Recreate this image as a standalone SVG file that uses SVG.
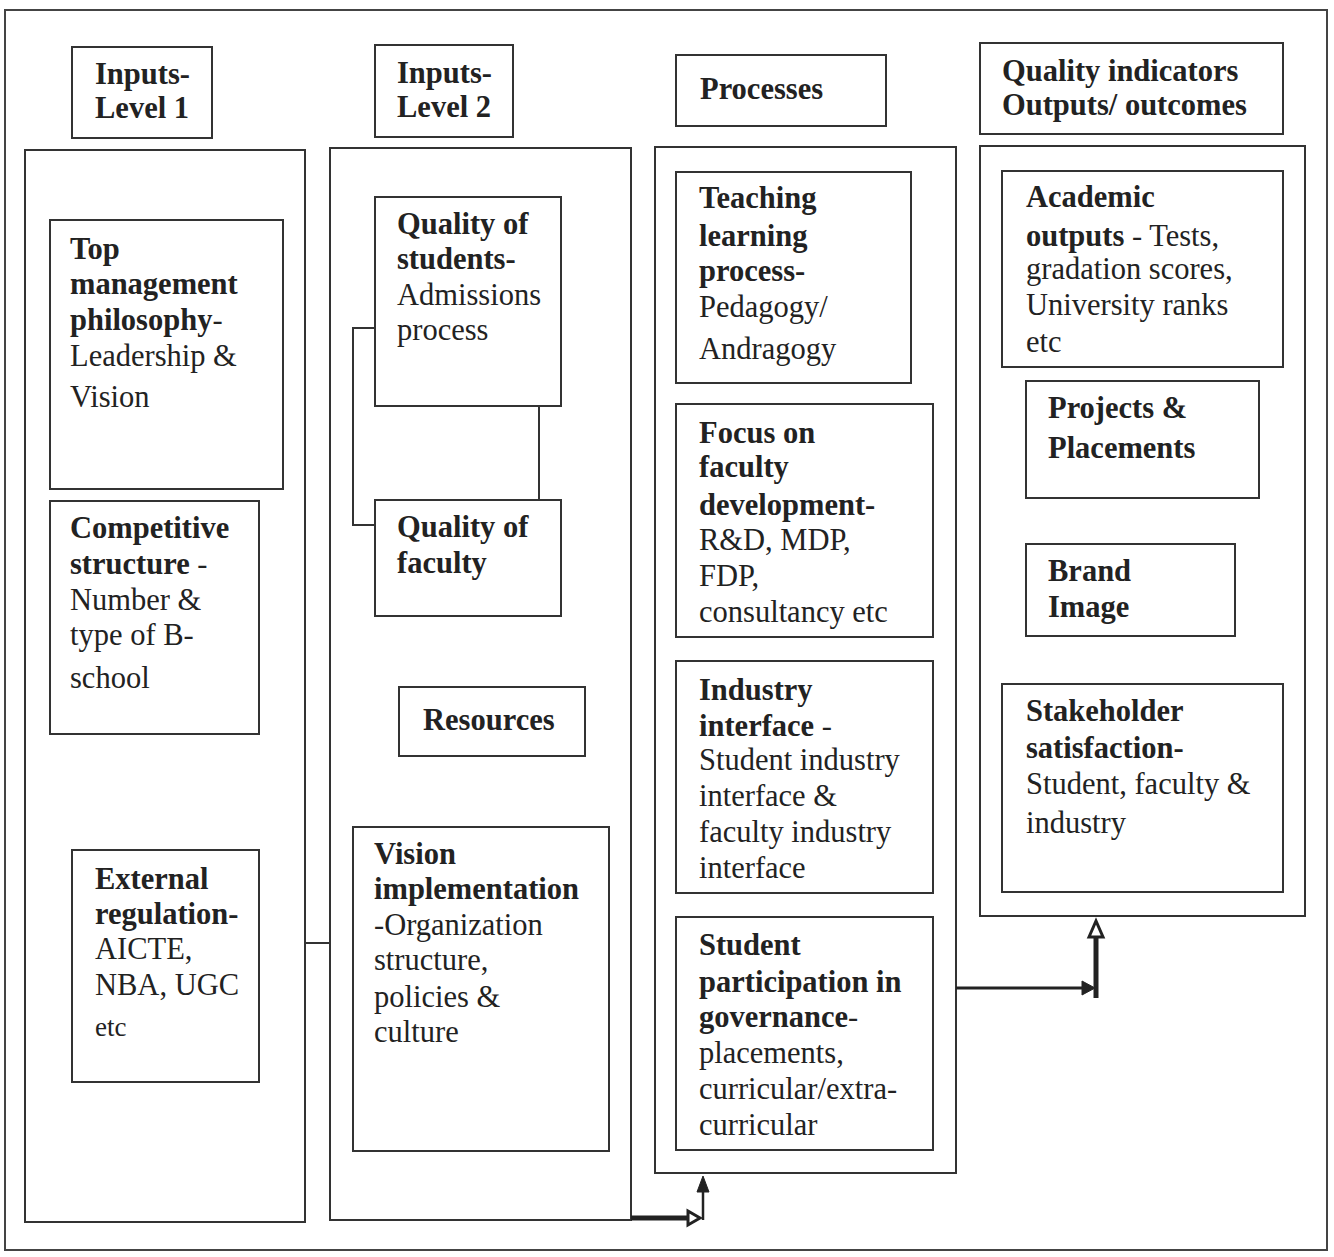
<svg xmlns="http://www.w3.org/2000/svg" width="1334" height="1257" viewBox="0 0 1334 1257">
<style>
rect{fill:#fff;stroke:#333;stroke-width:2}
text{font-family:"Liberation Serif","Times New Roman",serif;font-size:30.5px;fill:#222}
.b{font-weight:bold}
.c{fill:none;stroke:#333;stroke-width:2}
.ah{fill:#fff;stroke:#222;stroke-width:3;stroke-linejoin:miter}
.af{fill:#222;stroke:#222;stroke-width:1}
</style>
<rect x="0" y="0" width="1334" height="1257" style="fill:#fff;stroke:none"/>
<rect id="frame" x="5" y="10" width="1322" height="1240" style="fill:none;stroke:#444"/>

<g id="h1"><rect x="72" y="47" width="140" height="91"/><text class="b" x="95" y="84">Inputs-</text><text class="b" x="95" y="118">Level 1</text></g>
<g id="h2"><rect x="375" y="45" width="138" height="92"/><text class="b" x="397" y="83">Inputs-</text><text class="b" x="397" y="117">Level 2</text></g>
<g id="h3"><rect x="676" y="55" width="210" height="71"/><text class="b" x="700" y="99">Processes</text></g>
<g id="h4"><rect x="980" y="43" width="303" height="91"/><text class="b" x="1002" y="81">Quality indicators</text><text class="b" x="1002" y="115">Outputs/ outcomes</text></g>

<g id="col1"><rect x="25" y="150" width="280" height="1072"/></g>
<g id="col2"><rect x="330" y="148" width="301" height="1072"/></g>
<g id="col3"><rect x="655" y="147" width="301" height="1026"/></g>
<g id="col4"><rect x="980" y="146" width="325" height="770"/></g>

<g id="n-top"><rect x="50" y="220" width="233" height="269"/>
<text x="70" y="259"><tspan class="b">Top</tspan></text>
<text x="70" y="294"><tspan class="b">management</tspan></text>
<text x="70" y="330"><tspan class="b">philosophy</tspan>-</text>
<text x="70" y="366">Leadership &amp;</text>
<text x="70" y="407">Vision</text></g>

<g id="n-comp"><rect x="50" y="501" width="209" height="233"/>
<text x="70" y="538"><tspan class="b">Competitive</tspan></text>
<text x="70" y="574"><tspan class="b">structure</tspan> -</text>
<text x="70" y="610">Number &amp;</text>
<text x="70" y="645">type of B-</text>
<text x="70" y="688">school</text></g>

<g id="n-ext"><rect x="72" y="850" width="187" height="232"/>
<text x="95" y="889"><tspan class="b">External</tspan></text>
<text x="95" y="924"><tspan class="b">regulation-</tspan></text>
<text x="95" y="959">AICTE,</text>
<text x="95" y="995">NBA, UGC</text>
<text x="95" y="1036" style="font-size:27px">etc</text></g>

<g id="n-qs"><rect x="375" y="197" width="186" height="209"/>
<text x="397" y="234"><tspan class="b">Quality of</tspan></text>
<text x="397" y="269"><tspan class="b">students-</tspan></text>
<text x="397" y="305">Admissions</text>
<text x="397" y="340">process</text></g>

<g id="n-qf"><rect x="375" y="500" width="186" height="116"/>
<text x="397" y="537"><tspan class="b">Quality of</tspan></text>
<text x="397" y="573"><tspan class="b">faculty</tspan></text></g>

<g id="n-res"><rect x="399" y="687" width="186" height="69"/>
<text x="423" y="730" class="b">Resources</text></g>

<g id="n-vis"><rect x="353" y="827" width="256" height="324"/>
<text x="374" y="864"><tspan class="b">Vision</tspan></text>
<text x="374" y="899"><tspan class="b">implementation</tspan></text>
<text x="374" y="935">-Organization</text>
<text x="374" y="970">structure,</text>
<text x="374" y="1007">policies &amp;</text>
<text x="374" y="1042">culture</text></g>

<g id="n-teach"><rect x="676" y="172" width="235" height="211"/>
<text x="699" y="208"><tspan class="b">Teaching</tspan></text>
<text x="699" y="246"><tspan class="b">learning</tspan></text>
<text x="699" y="281"><tspan class="b">process-</tspan></text>
<text x="699" y="317">Pedagogy/</text>
<text x="699" y="359">Andragogy</text></g>

<g id="n-focus"><rect x="676" y="404" width="257" height="233"/>
<text x="699" y="443"><tspan class="b">Focus on</tspan></text>
<text x="699" y="477"><tspan class="b">faculty</tspan></text>
<text x="699" y="515"><tspan class="b">development-</tspan></text>
<text x="699" y="550">R&amp;D, MDP,</text>
<text x="699" y="586">FDP,</text>
<text x="699" y="622">consultancy etc</text></g>

<g id="n-ind"><rect x="676" y="661" width="257" height="232"/>
<text x="699" y="700"><tspan class="b">Industry</tspan></text>
<text x="699" y="736"><tspan class="b">interface</tspan> -</text>
<text x="699" y="770">Student industry</text>
<text x="699" y="806">interface &amp;</text>
<text x="699" y="842">faculty industry</text>
<text x="699" y="878">interface</text></g>

<g id="n-stud"><rect x="676" y="917" width="257" height="233"/>
<text x="699" y="955"><tspan class="b">Student</tspan></text>
<text x="699" y="992"><tspan class="b">participation in</tspan></text>
<text x="699" y="1027"><tspan class="b">governance</tspan>-</text>
<text x="699" y="1063">placements,</text>
<text x="699" y="1099">curricular/extra-</text>
<text x="699" y="1135">curricular</text></g>

<g id="n-acad"><rect x="1002" y="171" width="281" height="196"/>
<text x="1026" y="207"><tspan class="b">Academic</tspan></text>
<text x="1026" y="246"><tspan class="b">outputs</tspan> - Tests,</text>
<text x="1026" y="279">gradation scores,</text>
<text x="1026" y="315">University ranks</text>
<text x="1026" y="352">etc</text></g>

<g id="n-proj"><rect x="1026" y="381" width="233" height="117"/>
<text x="1048" y="418" class="b">Projects &amp;</text>
<text x="1048" y="458" class="b">Placements</text></g>

<g id="n-brand"><rect x="1026" y="544" width="209" height="92"/>
<text x="1048" y="581" class="b">Brand</text>
<text x="1048" y="617" class="b">Image</text></g>

<g id="n-stake"><rect x="1002" y="684" width="281" height="208"/>
<text x="1026" y="721"><tspan class="b">Stakeholder</tspan></text>
<text x="1026" y="758"><tspan class="b">satisfaction-</tspan></text>
<text x="1026" y="794">Student, faculty &amp;</text>
<text x="1026" y="833">industry</text></g>

<g id="connectors">
<path class="c" d="M375,328 H353 V525 H375"/>
<path class="c" d="M539,406 V500"/>
<path class="c" d="M305,943 H330"/>
<path d="M631,1218 H688" fill="none" stroke="#222" stroke-width="5"/>
<path class="ah" d="M688,1211 L700,1218 L688,1225 Z"/>
<path d="M703,1220 V1190" fill="none" stroke="#222" stroke-width="2.5"/>
<path class="af" d="M697,1192 L703,1176 L709,1192 Z"/>
<path d="M956,988 H1086" fill="none" stroke="#222" stroke-width="3"/>
<path class="af" d="M1082,981 L1095,988 L1082,995 Z"/>
<path d="M1096,998 V936" fill="none" stroke="#222" stroke-width="5"/>
<path class="ah" d="M1089,937 L1096,921 L1103,937 Z"/>
</g>
</svg>
